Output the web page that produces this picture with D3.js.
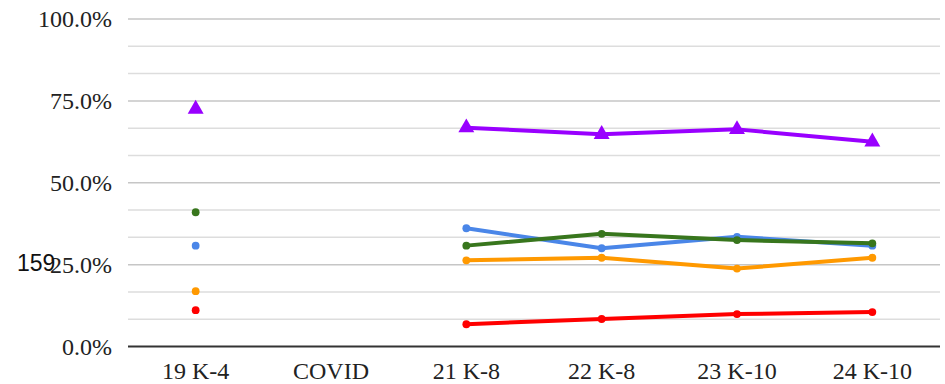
<!DOCTYPE html>
<html>
<head>
<meta charset="utf-8">
<script src="https://cdn.jsdelivr.net/npm/d3@7"></script>
<style>
  html, body { margin: 0; padding: 0; background: #fff; }
  svg { display: block; }
</style>
</head>
<body>
<svg id="chart" width="945" height="384"></svg>
<script>
const categories = ["19 K-4", "COVID", "21 K-8", "22 K-8", "23 K-10", "24 K-10"];
const purple = [72.5, null, 66.8, 64.8, 66.3, 62.5];
const green  = [41.0, null, 30.8, 34.4, 32.5, 31.5];
const blue   = [30.8, null, 36.1, 30.0, 33.5, 30.8];
const orange = [16.9, null, 26.3, 27.1, 23.8, 27.1];
const red    = [11.1, null, 6.8, 8.4, 9.9, 10.5];
const yTicks = [0, 25, 50, 75, 100];
const minorTicks = [8.333, 16.667, 33.333, 41.667, 58.333, 66.667, 83.333, 91.667];
const overlayLabel = "159";

const series = [
  { name: "red", values: red, color: "#ff0000", shape: "circle" },
  { name: "orange", values: orange, color: "#ff9900", shape: "circle" },
  { name: "blue", values: blue, color: "#4a86e8", shape: "circle" },
  { name: "green", values: green, color: "#38761d", shape: "circle" },
  { name: "purple", values: purple, color: "#9900ff", shape: "triangle" }
];

const svg = d3.select("#chart");
const plotLeft = 128, plotRight = 940, plotTop = 19, plotBottom = 346.5;

const x = d3.scaleBand().domain(categories).range([plotLeft, plotRight]);
const y = d3.scaleLinear().domain([0, 100]).range([plotBottom, plotTop]);

// minor gridlines
svg.append("g").selectAll("line").data(minorTicks).join("line")
  .attr("x1", plotLeft).attr("x2", plotRight)
  .attr("y1", d => y(d)).attr("y2", d => y(d))
  .attr("stroke", "#dddddd").attr("stroke-width", 1.5);

// major gridlines
svg.append("g").selectAll("line").data(yTicks.filter(d => d > 0)).join("line")
  .attr("x1", plotLeft).attr("x2", plotRight)
  .attr("y1", d => y(d)).attr("y2", d => y(d))
  .attr("stroke", "#c6c6c6").attr("stroke-width", 1.5);

// y labels
svg.append("g").selectAll("text").data(yTicks).join("text")
  .attr("x", 112).attr("y", d => y(d) + 8)
  .attr("text-anchor", "end")
  .attr("font-family", "'Liberation Serif', 'Times New Roman', serif")
  .attr("font-size", 24).attr("fill", "#222")
  .text(d => d.toFixed(1) + "%");

// x axis line
svg.append("line")
  .attr("x1", plotLeft).attr("x2", plotRight)
  .attr("y1", y(0)).attr("y2", y(0))
  .attr("stroke", "#333").attr("stroke-width", 2);

// x labels
svg.append("g").selectAll("text").data(categories).join("text")
  .attr("x", d => x(d) + x.bandwidth() / 2).attr("y", 379)
  .attr("text-anchor", "middle")
  .attr("font-family", "'Liberation Serif', 'Times New Roman', serif")
  .attr("font-size", 24).attr("fill", "#222")
  .text(d => d);

const cx = (i) => x(categories[i]) + x.bandwidth() / 2;

const lineGen = d3.line()
  .defined(d => d.v !== null)
  .x(d => cx(d.i))
  .y(d => y(d.v));

series.forEach(s => {
  const pts = s.values.map((v, i) => ({ v, i }));
  svg.append("path")
    .datum(pts)
    .attr("d", lineGen)
    .attr("fill", "none")
    .attr("stroke", s.color)
    .attr("stroke-width", 4)
    .attr("stroke-linejoin", "round");
  const valid = pts.filter(d => d.v !== null);
  if (s.shape === "circle") {
    svg.append("g").selectAll("circle").data(valid).join("circle")
      .attr("cx", d => cx(d.i)).attr("cy", d => y(d.v))
      .attr("r", 3.9).attr("fill", s.color);
  } else {
    const sym = d3.symbol().type(d3.symbolTriangle).size(110);
    svg.append("g").selectAll("path").data(valid).join("path")
      .attr("transform", d => `translate(${cx(d.i)},${y(d.v)})`)
      .attr("d", sym).attr("fill", s.color);
  }
});

// overlay label
svg.append("text")
  .attr("x", 17).attr("y", 271)
  .attr("font-family", "'Liberation Sans', Arial, sans-serif")
  .attr("font-size", 23).attr("fill", "#111")
  .text(overlayLabel);
</script>
</body>
</html>
